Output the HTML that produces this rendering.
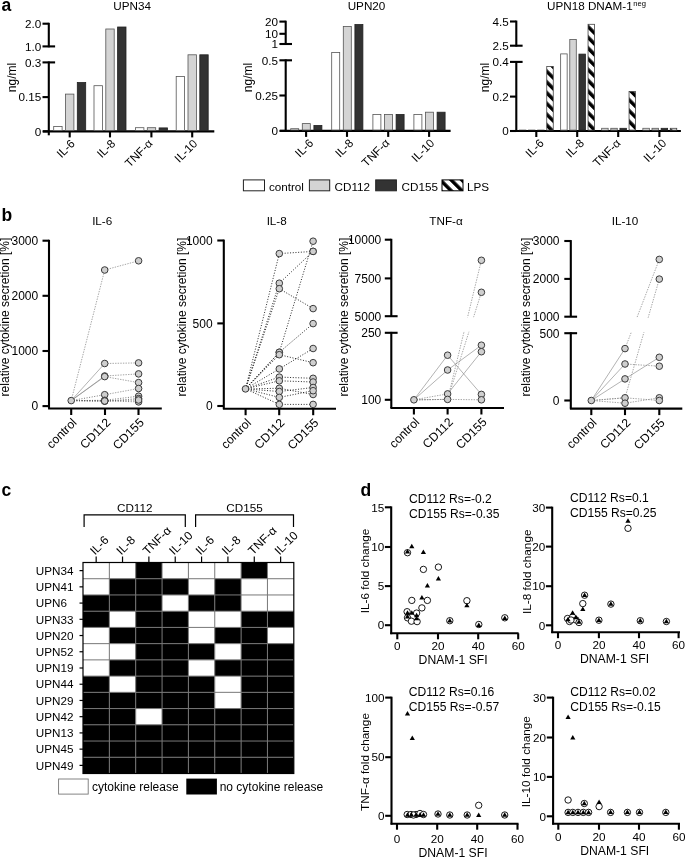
<!DOCTYPE html><html><head><meta charset="utf-8"><style>html,body{margin:0;padding:0;background:#fff;}svg{display:block;will-change:transform;}svg{font-family:"Liberation Sans",sans-serif;font-size:11.7px;}</style></head><body>
<svg width="685" height="857" viewBox="0 0 685 857">
<defs><pattern id="hatch" patternUnits="userSpaceOnUse" width="7.6" height="7.6" patternTransform="rotate(-45)"><rect width="7.6" height="7.6" fill="#fff"/><rect width="3.5" height="7.6" fill="#000"/></pattern></defs>
<rect width="685" height="857" fill="#fff"/>
<text x="1.50" y="10.80" font-size="17.5" font-weight="bold">a</text>
<text x="132.20" y="10.20" text-anchor="middle">UPN34</text>
<text transform="translate(15.6,77.5) rotate(-90)" text-anchor="middle" font-size="12">ng/ml</text>
<line x1="48.80" y1="22.80" x2="48.80" y2="47.30" stroke="#000" stroke-width="2.1"/>
<line x1="48.80" y1="61.50" x2="48.80" y2="135.30" stroke="#000" stroke-width="2.1"/>
<line x1="42.50" y1="23.70" x2="48.80" y2="23.70" stroke="#000" stroke-width="2.1"/>
<text x="41.20" y="27.90" text-anchor="end">2.0</text>
<line x1="42.50" y1="46.40" x2="55.10" y2="46.40" stroke="#000" stroke-width="2.1"/>
<text x="41.20" y="50.60" text-anchor="end">1.0</text>
<line x1="42.50" y1="62.40" x2="55.10" y2="62.40" stroke="#000" stroke-width="2.1"/>
<text x="41.20" y="66.60" text-anchor="end">0.3</text>
<line x1="42.50" y1="97.10" x2="48.80" y2="97.10" stroke="#000" stroke-width="2.1"/>
<text x="41.20" y="101.30" text-anchor="end">0.15</text>
<line x1="42.50" y1="131.40" x2="48.80" y2="131.40" stroke="#000" stroke-width="2.1"/>
<text x="41.20" y="135.60" text-anchor="end">0</text>
<line x1="43.00" y1="131.40" x2="214.30" y2="131.40" stroke="#000" stroke-width="2.1"/>
<line x1="69.70" y1="131.40" x2="69.70" y2="137.40" stroke="#000" stroke-width="2.1"/>
<text transform="translate(75.70,144.30) rotate(-45)" text-anchor="end">IL-6</text>
<line x1="110.00" y1="131.40" x2="110.00" y2="137.40" stroke="#000" stroke-width="2.1"/>
<text transform="translate(116.00,144.30) rotate(-45)" text-anchor="end">IL-8</text>
<line x1="151.40" y1="131.40" x2="151.40" y2="137.40" stroke="#000" stroke-width="2.1"/>
<text transform="translate(153.40,144.30) rotate(-45)" text-anchor="end">TNF-α</text>
<line x1="192.20" y1="131.40" x2="192.20" y2="137.40" stroke="#000" stroke-width="2.1"/>
<text transform="translate(198.20,144.30) rotate(-45)" text-anchor="end">IL-10</text>
<rect x="53.70" y="126.40" width="8.40" height="4.10" fill="#ffffff" stroke="#555" stroke-width="0.8"/>
<rect x="65.50" y="94.10" width="8.40" height="36.40" fill="#d4d4d4" stroke="#555" stroke-width="0.8"/>
<rect x="77.30" y="82.50" width="8.40" height="48.00" fill="#333333" stroke="#222" stroke-width="0.8"/>
<rect x="94.00" y="85.70" width="8.40" height="44.80" fill="#ffffff" stroke="#555" stroke-width="0.8"/>
<rect x="105.80" y="29.00" width="8.40" height="101.50" fill="#d4d4d4" stroke="#555" stroke-width="0.8"/>
<rect x="117.60" y="27.00" width="8.40" height="103.50" fill="#333333" stroke="#222" stroke-width="0.8"/>
<rect x="135.50" y="127.70" width="8.40" height="2.80" fill="#ffffff" stroke="#555" stroke-width="0.8"/>
<rect x="147.30" y="127.70" width="8.40" height="2.80" fill="#d4d4d4" stroke="#555" stroke-width="0.8"/>
<rect x="159.10" y="127.90" width="8.40" height="2.60" fill="#333333" stroke="#222" stroke-width="0.8"/>
<rect x="176.20" y="76.40" width="8.40" height="54.10" fill="#ffffff" stroke="#555" stroke-width="0.8"/>
<rect x="188.00" y="54.80" width="8.40" height="75.70" fill="#d4d4d4" stroke="#555" stroke-width="0.8"/>
<rect x="199.80" y="54.80" width="8.40" height="75.70" fill="#333333" stroke="#222" stroke-width="0.8"/>
<text x="366.50" y="10.20" text-anchor="middle">UPN20</text>
<text transform="translate(251.6,77.5) rotate(-90)" text-anchor="middle" font-size="12">ng/ml</text>
<line x1="285.70" y1="20.70" x2="285.70" y2="44.90" stroke="#000" stroke-width="2.1"/>
<line x1="285.70" y1="59.40" x2="285.70" y2="131.80" stroke="#000" stroke-width="2.1"/>
<line x1="279.40" y1="21.60" x2="285.70" y2="21.60" stroke="#000" stroke-width="2.1"/>
<text x="278.10" y="25.80" text-anchor="end">20</text>
<line x1="279.40" y1="33.80" x2="285.70" y2="33.80" stroke="#000" stroke-width="2.1"/>
<text x="278.10" y="38.00" text-anchor="end">10</text>
<line x1="279.40" y1="44.00" x2="292.00" y2="44.00" stroke="#000" stroke-width="2.1"/>
<text x="278.10" y="48.20" text-anchor="end">1</text>
<line x1="279.40" y1="60.30" x2="292.00" y2="60.30" stroke="#000" stroke-width="2.1"/>
<text x="278.10" y="64.50" text-anchor="end">0.5</text>
<line x1="279.40" y1="95.50" x2="285.70" y2="95.50" stroke="#000" stroke-width="2.1"/>
<text x="278.10" y="99.70" text-anchor="end">0.25</text>
<line x1="279.40" y1="130.90" x2="285.70" y2="130.90" stroke="#000" stroke-width="2.1"/>
<text x="278.10" y="135.10" text-anchor="end">0</text>
<line x1="280.00" y1="130.90" x2="450.60" y2="130.90" stroke="#000" stroke-width="2.1"/>
<line x1="306.10" y1="130.90" x2="306.10" y2="136.90" stroke="#000" stroke-width="2.1"/>
<text transform="translate(314.10,143.80) rotate(-45)" text-anchor="end">IL-6</text>
<line x1="347.00" y1="130.90" x2="347.00" y2="136.90" stroke="#000" stroke-width="2.1"/>
<text transform="translate(354.20,143.80) rotate(-45)" text-anchor="end">IL-8</text>
<line x1="388.20" y1="130.90" x2="388.20" y2="136.90" stroke="#000" stroke-width="2.1"/>
<text transform="translate(390.20,143.80) rotate(-45)" text-anchor="end">TNF-α</text>
<line x1="429.10" y1="130.90" x2="429.10" y2="136.90" stroke="#000" stroke-width="2.1"/>
<text transform="translate(435.10,143.80) rotate(-45)" text-anchor="end">IL-10</text>
<rect x="290.70" y="128.70" width="8.00" height="1.30" fill="#ffffff" stroke="#555" stroke-width="0.8"/>
<rect x="302.30" y="123.60" width="8.00" height="6.40" fill="#d4d4d4" stroke="#555" stroke-width="0.8"/>
<rect x="313.90" y="125.40" width="8.00" height="4.60" fill="#333333" stroke="#222" stroke-width="0.8"/>
<rect x="331.70" y="52.50" width="8.00" height="77.50" fill="#ffffff" stroke="#555" stroke-width="0.8"/>
<rect x="343.30" y="26.40" width="8.00" height="103.60" fill="#d4d4d4" stroke="#555" stroke-width="0.8"/>
<rect x="354.90" y="24.50" width="8.00" height="105.50" fill="#333333" stroke="#222" stroke-width="0.8"/>
<rect x="372.90" y="114.40" width="8.00" height="15.60" fill="#ffffff" stroke="#555" stroke-width="0.8"/>
<rect x="384.50" y="114.40" width="8.00" height="15.60" fill="#d4d4d4" stroke="#555" stroke-width="0.8"/>
<rect x="396.10" y="114.40" width="8.00" height="15.60" fill="#333333" stroke="#222" stroke-width="0.8"/>
<rect x="413.90" y="114.40" width="8.00" height="15.60" fill="#ffffff" stroke="#555" stroke-width="0.8"/>
<rect x="425.50" y="112.20" width="8.00" height="17.80" fill="#d4d4d4" stroke="#555" stroke-width="0.8"/>
<rect x="437.10" y="112.20" width="8.00" height="17.80" fill="#333333" stroke="#222" stroke-width="0.8"/>
<text x="547" y="10.2">UPN18 DNAM-1<tspan font-size="7.6" dy="-4.6" dx="0.6">neg</tspan></text>
<text transform="translate(488.6,77.5) rotate(-90)" text-anchor="middle" font-size="12">ng/ml</text>
<line x1="516.30" y1="20.60" x2="516.30" y2="46.60" stroke="#000" stroke-width="2.1"/>
<line x1="516.30" y1="61.00" x2="516.30" y2="131.90" stroke="#000" stroke-width="2.1"/>
<line x1="510.00" y1="21.50" x2="516.30" y2="21.50" stroke="#000" stroke-width="2.1"/>
<text x="508.70" y="25.70" text-anchor="end">4.5</text>
<line x1="510.00" y1="45.70" x2="522.60" y2="45.70" stroke="#000" stroke-width="2.1"/>
<text x="508.70" y="49.90" text-anchor="end">2.5</text>
<line x1="510.00" y1="61.90" x2="522.60" y2="61.90" stroke="#000" stroke-width="2.1"/>
<text x="508.70" y="66.10" text-anchor="end">0.4</text>
<line x1="510.00" y1="96.60" x2="516.30" y2="96.60" stroke="#000" stroke-width="2.1"/>
<text x="508.70" y="100.80" text-anchor="end">0.2</text>
<line x1="510.00" y1="131.00" x2="516.30" y2="131.00" stroke="#000" stroke-width="2.1"/>
<text x="508.70" y="135.20" text-anchor="end">0</text>
<line x1="510.00" y1="131.00" x2="680.90" y2="131.00" stroke="#000" stroke-width="2.1"/>
<line x1="536.30" y1="131.00" x2="536.30" y2="137.00" stroke="#000" stroke-width="2.1"/>
<text transform="translate(544.50,143.90) rotate(-45)" text-anchor="end">IL-6</text>
<line x1="577.20" y1="131.00" x2="577.20" y2="137.00" stroke="#000" stroke-width="2.1"/>
<text transform="translate(584.80,143.90) rotate(-45)" text-anchor="end">IL-8</text>
<line x1="618.20" y1="131.00" x2="618.20" y2="137.00" stroke="#000" stroke-width="2.1"/>
<text transform="translate(621.40,143.90) rotate(-45)" text-anchor="end">TNF-α</text>
<line x1="659.40" y1="131.00" x2="659.40" y2="137.00" stroke="#000" stroke-width="2.1"/>
<text transform="translate(667.20,143.90) rotate(-45)" text-anchor="end">IL-10</text>
<rect x="518.95" y="129.50" width="7.30" height="0.60" fill="#888"/>
<rect x="528.08" y="129.50" width="7.30" height="0.60" fill="#888"/>
<rect x="537.22" y="129.50" width="7.30" height="0.60" fill="#888"/>
<rect x="546.75" y="66.40" width="6.50" height="63.70" fill="url(#hatch)" stroke="#444" stroke-width="0.8"/>
<rect x="560.65" y="53.90" width="6.50" height="76.20" fill="#ffffff" stroke="#555" stroke-width="0.8"/>
<rect x="569.78" y="39.50" width="6.50" height="90.60" fill="#d4d4d4" stroke="#555" stroke-width="0.8"/>
<rect x="578.92" y="54.10" width="6.50" height="76.00" fill="#333333" stroke="#222" stroke-width="0.8"/>
<rect x="588.05" y="24.30" width="6.50" height="105.80" fill="url(#hatch)" stroke="#444" stroke-width="0.8"/>
<rect x="601.65" y="128.30" width="6.50" height="1.80" fill="#ffffff" stroke="#555" stroke-width="0.8"/>
<rect x="610.78" y="128.30" width="6.50" height="1.80" fill="#d4d4d4" stroke="#555" stroke-width="0.8"/>
<rect x="619.92" y="128.30" width="6.50" height="1.80" fill="#333333" stroke="#222" stroke-width="0.8"/>
<rect x="629.05" y="91.40" width="6.50" height="38.70" fill="url(#hatch)" stroke="#444" stroke-width="0.8"/>
<rect x="642.85" y="128.30" width="6.50" height="1.80" fill="#ffffff" stroke="#555" stroke-width="0.8"/>
<rect x="651.98" y="128.30" width="6.50" height="1.80" fill="#d4d4d4" stroke="#555" stroke-width="0.8"/>
<rect x="661.12" y="128.30" width="6.50" height="1.80" fill="#333333" stroke="#222" stroke-width="0.8"/>
<rect x="670.25" y="128.30" width="6.50" height="1.80" fill="url(#hatch)" stroke="#444" stroke-width="0.8"/>
<rect x="243.40" y="179.90" width="21.10" height="10.90" fill="#ffffff" stroke="#222" stroke-width="1"/>
<text x="268.90" y="190.60">control</text>
<rect x="309.40" y="179.90" width="20.30" height="10.90" fill="#d4d4d4" stroke="#222" stroke-width="1"/>
<text x="334.50" y="190.60">CD112</text>
<rect x="375.70" y="179.90" width="20.70" height="10.90" fill="#333333" stroke="#222" stroke-width="1"/>
<text x="401.50" y="190.60">CD155</text>
<rect x="442.00" y="179.90" width="21.00" height="10.90" fill="url(#hatch)" stroke="#000" stroke-width="1"/>
<text x="467.00" y="190.60">LPS</text>
<text x="1.50" y="220.60" font-size="17.5" font-weight="bold">b</text>
<text x="102.20" y="224.80" text-anchor="middle">IL-6</text>
<text transform="translate(8.90,317) rotate(-90)" text-anchor="middle" font-size="12">relative cytokine secretion [%]</text>
<line x1="49.00" y1="239.80" x2="49.00" y2="408.50" stroke="#000" stroke-width="2.1"/>
<line x1="42.50" y1="240.70" x2="49.00" y2="240.70" stroke="#000" stroke-width="2.1"/>
<text x="38.20" y="245.00" text-anchor="end" font-size="12">3000</text>
<line x1="42.50" y1="295.80" x2="49.00" y2="295.80" stroke="#000" stroke-width="2.1"/>
<text x="38.20" y="300.10" text-anchor="end" font-size="12">2000</text>
<line x1="42.50" y1="351.00" x2="49.00" y2="351.00" stroke="#000" stroke-width="2.1"/>
<text x="38.20" y="355.30" text-anchor="end" font-size="12">1000</text>
<line x1="42.50" y1="406.10" x2="49.00" y2="406.10" stroke="#000" stroke-width="2.1"/>
<text x="38.20" y="410.40" text-anchor="end" font-size="12">0</text>
<line x1="48.10" y1="408.50" x2="161.80" y2="408.50" stroke="#000" stroke-width="2.1"/>
<line x1="71.20" y1="408.50" x2="71.20" y2="415.00" stroke="#000" stroke-width="2.1"/>
<text transform="translate(77.40,423.30) rotate(-45)" text-anchor="end" font-size="12.2">control</text>
<line x1="105.00" y1="408.50" x2="105.00" y2="415.00" stroke="#000" stroke-width="2.1"/>
<text transform="translate(111.20,423.30) rotate(-45)" text-anchor="end" font-size="12.2">CD112</text>
<line x1="138.50" y1="408.50" x2="138.50" y2="415.00" stroke="#000" stroke-width="2.1"/>
<text transform="translate(144.70,423.30) rotate(-45)" text-anchor="end" font-size="12.2">CD155</text>
<line x1="71.20" y1="400.60" x2="104.70" y2="270.00" stroke="#888" stroke-width="0.75" stroke-dasharray="1.4 1.2"/>
<line x1="104.70" y1="270.00" x2="138.60" y2="260.80" stroke="#888" stroke-width="0.75" stroke-dasharray="1.4 1.2"/>
<line x1="71.20" y1="400.60" x2="104.70" y2="363.50" stroke="#8a8a8a" stroke-width="0.65"/>
<line x1="104.70" y1="363.50" x2="138.60" y2="362.90" stroke="#888" stroke-width="0.75" stroke-dasharray="1.4 1.2"/>
<line x1="71.20" y1="400.60" x2="104.70" y2="376.00" stroke="#8a8a8a" stroke-width="0.65"/>
<line x1="104.70" y1="376.00" x2="138.60" y2="373.90" stroke="#888" stroke-width="0.75" stroke-dasharray="1.4 1.2"/>
<line x1="71.20" y1="400.60" x2="104.70" y2="376.60" stroke="#8a8a8a" stroke-width="0.65"/>
<line x1="104.70" y1="376.60" x2="138.60" y2="382.60" stroke="#888" stroke-width="0.75" stroke-dasharray="1.4 1.2"/>
<line x1="71.20" y1="400.60" x2="104.70" y2="394.70" stroke="#555" stroke-width="0.8" stroke-dasharray="1 1.6"/>
<line x1="104.70" y1="394.70" x2="138.60" y2="388.50" stroke="#888" stroke-width="0.75" stroke-dasharray="1.4 1.2"/>
<line x1="71.20" y1="400.60" x2="104.70" y2="400.30" stroke="#555" stroke-width="0.8" stroke-dasharray="1 1.6"/>
<line x1="104.70" y1="400.30" x2="138.60" y2="396.20" stroke="#555" stroke-width="0.8" stroke-dasharray="1 1.6"/>
<line x1="71.20" y1="400.60" x2="104.70" y2="401.20" stroke="#555" stroke-width="0.8" stroke-dasharray="1 1.6"/>
<line x1="104.70" y1="401.20" x2="138.60" y2="398.60" stroke="#555" stroke-width="0.8" stroke-dasharray="1 1.6"/>
<line x1="71.20" y1="400.60" x2="104.70" y2="400.80" stroke="#555" stroke-width="0.8" stroke-dasharray="1 1.6"/>
<line x1="104.70" y1="400.80" x2="138.60" y2="401.90" stroke="#555" stroke-width="0.8" stroke-dasharray="1 1.6"/>
<line x1="71.20" y1="400.60" x2="104.70" y2="401.00" stroke="#555" stroke-width="0.8" stroke-dasharray="1 1.6"/>
<line x1="104.70" y1="401.00" x2="138.60" y2="400.00" stroke="#555" stroke-width="0.8" stroke-dasharray="1 1.6"/>
<circle cx="71.20" cy="400.60" r="3.3" fill="#cfcfcf" stroke="#3a3a3a" stroke-width="1"/>
<circle cx="104.70" cy="270.00" r="3.3" fill="#cfcfcf" stroke="#3a3a3a" stroke-width="1"/>
<circle cx="138.60" cy="260.80" r="3.3" fill="#cfcfcf" stroke="#3a3a3a" stroke-width="1"/>
<circle cx="104.70" cy="363.50" r="3.3" fill="#cfcfcf" stroke="#3a3a3a" stroke-width="1"/>
<circle cx="138.60" cy="362.90" r="3.3" fill="#cfcfcf" stroke="#3a3a3a" stroke-width="1"/>
<circle cx="104.70" cy="376.00" r="3.3" fill="#cfcfcf" stroke="#3a3a3a" stroke-width="1"/>
<circle cx="138.60" cy="373.90" r="3.3" fill="#cfcfcf" stroke="#3a3a3a" stroke-width="1"/>
<circle cx="104.70" cy="376.60" r="3.3" fill="#cfcfcf" stroke="#3a3a3a" stroke-width="1"/>
<circle cx="138.60" cy="382.60" r="3.3" fill="#cfcfcf" stroke="#3a3a3a" stroke-width="1"/>
<circle cx="104.70" cy="394.70" r="3.3" fill="#cfcfcf" stroke="#3a3a3a" stroke-width="1"/>
<circle cx="138.60" cy="388.50" r="3.3" fill="#cfcfcf" stroke="#3a3a3a" stroke-width="1"/>
<circle cx="104.70" cy="400.30" r="3.3" fill="#cfcfcf" stroke="#3a3a3a" stroke-width="1"/>
<circle cx="138.60" cy="396.20" r="3.3" fill="#cfcfcf" stroke="#3a3a3a" stroke-width="1"/>
<circle cx="104.70" cy="401.20" r="3.3" fill="#cfcfcf" stroke="#3a3a3a" stroke-width="1"/>
<circle cx="138.60" cy="398.60" r="3.3" fill="#cfcfcf" stroke="#3a3a3a" stroke-width="1"/>
<circle cx="104.70" cy="400.80" r="3.3" fill="#cfcfcf" stroke="#3a3a3a" stroke-width="1"/>
<circle cx="138.60" cy="401.90" r="3.3" fill="#cfcfcf" stroke="#3a3a3a" stroke-width="1"/>
<circle cx="104.70" cy="401.00" r="3.3" fill="#cfcfcf" stroke="#3a3a3a" stroke-width="1"/>
<circle cx="138.60" cy="400.00" r="3.3" fill="#cfcfcf" stroke="#3a3a3a" stroke-width="1"/>
<text x="276.70" y="224.80" text-anchor="middle">IL-8</text>
<text transform="translate(186.30,317) rotate(-90)" text-anchor="middle" font-size="12">relative cytokine secretion [%]</text>
<line x1="223.80" y1="239.60" x2="223.80" y2="408.70" stroke="#000" stroke-width="2.1"/>
<line x1="217.30" y1="240.50" x2="223.80" y2="240.50" stroke="#000" stroke-width="2.1"/>
<text x="212.60" y="244.80" text-anchor="end" font-size="12">1000</text>
<line x1="217.30" y1="323.40" x2="223.80" y2="323.40" stroke="#000" stroke-width="2.1"/>
<text x="212.60" y="327.70" text-anchor="end" font-size="12">500</text>
<line x1="217.30" y1="406.00" x2="223.80" y2="406.00" stroke="#000" stroke-width="2.1"/>
<text x="212.60" y="410.30" text-anchor="end" font-size="12">0</text>
<line x1="222.90" y1="408.70" x2="336.00" y2="408.70" stroke="#000" stroke-width="2.1"/>
<line x1="245.60" y1="408.70" x2="245.60" y2="415.20" stroke="#000" stroke-width="2.1"/>
<text transform="translate(251.80,423.50) rotate(-45)" text-anchor="end" font-size="12.2">control</text>
<line x1="279.20" y1="408.70" x2="279.20" y2="415.20" stroke="#000" stroke-width="2.1"/>
<text transform="translate(285.40,423.50) rotate(-45)" text-anchor="end" font-size="12.2">CD112</text>
<line x1="313.20" y1="408.70" x2="313.20" y2="415.20" stroke="#000" stroke-width="2.1"/>
<text transform="translate(319.40,423.50) rotate(-45)" text-anchor="end" font-size="12.2">CD155</text>
<line x1="245.50" y1="388.90" x2="279.30" y2="253.60" stroke="#111" stroke-width="0.9" stroke-dasharray="1 1.7"/>
<line x1="279.30" y1="253.60" x2="313.10" y2="251.40" stroke="#111" stroke-width="0.9" stroke-dasharray="1 1.7"/>
<line x1="245.50" y1="388.90" x2="279.30" y2="283.20" stroke="#111" stroke-width="0.9" stroke-dasharray="1 1.7"/>
<line x1="279.30" y1="283.20" x2="313.10" y2="251.40" stroke="#111" stroke-width="0.9" stroke-dasharray="1 1.7"/>
<line x1="245.50" y1="388.90" x2="279.30" y2="288.70" stroke="#111" stroke-width="0.9" stroke-dasharray="1 1.7"/>
<line x1="279.30" y1="288.70" x2="313.10" y2="308.60" stroke="#111" stroke-width="0.9" stroke-dasharray="1 1.7"/>
<line x1="245.50" y1="388.90" x2="279.30" y2="352.30" stroke="#111" stroke-width="0.9" stroke-dasharray="1 1.7"/>
<line x1="279.30" y1="352.30" x2="313.10" y2="241.20" stroke="#111" stroke-width="0.9" stroke-dasharray="1 1.7"/>
<line x1="245.50" y1="388.90" x2="279.30" y2="352.30" stroke="#111" stroke-width="0.9" stroke-dasharray="1 1.7"/>
<line x1="279.30" y1="352.30" x2="313.10" y2="323.60" stroke="#111" stroke-width="0.9" stroke-dasharray="1 1.7"/>
<line x1="245.50" y1="388.90" x2="279.30" y2="354.70" stroke="#111" stroke-width="0.9" stroke-dasharray="1 1.7"/>
<line x1="279.30" y1="354.70" x2="313.10" y2="362.70" stroke="#111" stroke-width="0.9" stroke-dasharray="1 1.7"/>
<line x1="245.50" y1="388.90" x2="279.30" y2="368.90" stroke="#111" stroke-width="0.9" stroke-dasharray="1 1.7"/>
<line x1="279.30" y1="368.90" x2="313.10" y2="348.50" stroke="#111" stroke-width="0.9" stroke-dasharray="1 1.7"/>
<line x1="245.50" y1="388.90" x2="279.30" y2="377.10" stroke="#111" stroke-width="0.9" stroke-dasharray="1 1.7"/>
<line x1="279.30" y1="377.10" x2="313.10" y2="378.30" stroke="#111" stroke-width="0.9" stroke-dasharray="1 1.7"/>
<line x1="245.50" y1="388.90" x2="279.30" y2="380.80" stroke="#111" stroke-width="0.9" stroke-dasharray="1 1.7"/>
<line x1="279.30" y1="380.80" x2="313.10" y2="382.00" stroke="#111" stroke-width="0.9" stroke-dasharray="1 1.7"/>
<line x1="245.50" y1="388.90" x2="279.30" y2="388.30" stroke="#111" stroke-width="0.9" stroke-dasharray="1 1.7"/>
<line x1="279.30" y1="388.30" x2="313.10" y2="394.50" stroke="#111" stroke-width="0.9" stroke-dasharray="1 1.7"/>
<line x1="245.50" y1="388.90" x2="279.30" y2="391.50" stroke="#111" stroke-width="0.9" stroke-dasharray="1 1.7"/>
<line x1="279.30" y1="391.50" x2="313.10" y2="387.50" stroke="#111" stroke-width="0.9" stroke-dasharray="1 1.7"/>
<line x1="245.50" y1="388.90" x2="279.30" y2="397.40" stroke="#111" stroke-width="0.9" stroke-dasharray="1 1.7"/>
<line x1="279.30" y1="397.40" x2="313.10" y2="390.70" stroke="#111" stroke-width="0.9" stroke-dasharray="1 1.7"/>
<line x1="245.50" y1="388.90" x2="279.30" y2="404.40" stroke="#111" stroke-width="0.9" stroke-dasharray="1 1.7"/>
<line x1="279.30" y1="404.40" x2="313.10" y2="404.40" stroke="#111" stroke-width="0.9" stroke-dasharray="1 1.7"/>
<circle cx="245.50" cy="388.90" r="3.3" fill="#cfcfcf" stroke="#3a3a3a" stroke-width="1"/>
<circle cx="279.30" cy="253.60" r="3.3" fill="#cfcfcf" stroke="#3a3a3a" stroke-width="1"/>
<circle cx="313.10" cy="251.40" r="3.3" fill="#cfcfcf" stroke="#3a3a3a" stroke-width="1"/>
<circle cx="279.30" cy="283.20" r="3.3" fill="#cfcfcf" stroke="#3a3a3a" stroke-width="1"/>
<circle cx="313.10" cy="251.40" r="3.3" fill="#cfcfcf" stroke="#3a3a3a" stroke-width="1"/>
<circle cx="279.30" cy="288.70" r="3.3" fill="#cfcfcf" stroke="#3a3a3a" stroke-width="1"/>
<circle cx="313.10" cy="308.60" r="3.3" fill="#cfcfcf" stroke="#3a3a3a" stroke-width="1"/>
<circle cx="279.30" cy="352.30" r="3.3" fill="#cfcfcf" stroke="#3a3a3a" stroke-width="1"/>
<circle cx="313.10" cy="241.20" r="3.3" fill="#cfcfcf" stroke="#3a3a3a" stroke-width="1"/>
<circle cx="279.30" cy="352.30" r="3.3" fill="#cfcfcf" stroke="#3a3a3a" stroke-width="1"/>
<circle cx="313.10" cy="323.60" r="3.3" fill="#cfcfcf" stroke="#3a3a3a" stroke-width="1"/>
<circle cx="279.30" cy="354.70" r="3.3" fill="#cfcfcf" stroke="#3a3a3a" stroke-width="1"/>
<circle cx="313.10" cy="362.70" r="3.3" fill="#cfcfcf" stroke="#3a3a3a" stroke-width="1"/>
<circle cx="279.30" cy="368.90" r="3.3" fill="#cfcfcf" stroke="#3a3a3a" stroke-width="1"/>
<circle cx="313.10" cy="348.50" r="3.3" fill="#cfcfcf" stroke="#3a3a3a" stroke-width="1"/>
<circle cx="279.30" cy="377.10" r="3.3" fill="#cfcfcf" stroke="#3a3a3a" stroke-width="1"/>
<circle cx="313.10" cy="378.30" r="3.3" fill="#cfcfcf" stroke="#3a3a3a" stroke-width="1"/>
<circle cx="279.30" cy="380.80" r="3.3" fill="#cfcfcf" stroke="#3a3a3a" stroke-width="1"/>
<circle cx="313.10" cy="382.00" r="3.3" fill="#cfcfcf" stroke="#3a3a3a" stroke-width="1"/>
<circle cx="279.30" cy="388.30" r="3.3" fill="#cfcfcf" stroke="#3a3a3a" stroke-width="1"/>
<circle cx="313.10" cy="394.50" r="3.3" fill="#cfcfcf" stroke="#3a3a3a" stroke-width="1"/>
<circle cx="279.30" cy="391.50" r="3.3" fill="#cfcfcf" stroke="#3a3a3a" stroke-width="1"/>
<circle cx="313.10" cy="387.50" r="3.3" fill="#cfcfcf" stroke="#3a3a3a" stroke-width="1"/>
<circle cx="279.30" cy="397.40" r="3.3" fill="#cfcfcf" stroke="#3a3a3a" stroke-width="1"/>
<circle cx="313.10" cy="390.70" r="3.3" fill="#cfcfcf" stroke="#3a3a3a" stroke-width="1"/>
<circle cx="279.30" cy="404.40" r="3.3" fill="#cfcfcf" stroke="#3a3a3a" stroke-width="1"/>
<circle cx="313.10" cy="404.40" r="3.3" fill="#cfcfcf" stroke="#3a3a3a" stroke-width="1"/>
<text x="446.00" y="224.80" text-anchor="middle">TNF-α</text>
<text transform="translate(348.20,317) rotate(-90)" text-anchor="middle" font-size="12">relative cytokine secretion [%]</text>
<line x1="391.30" y1="238.80" x2="391.30" y2="316.20" stroke="#000" stroke-width="2.1"/>
<line x1="391.30" y1="331.90" x2="391.30" y2="408.00" stroke="#000" stroke-width="2.1"/>
<line x1="384.80" y1="239.70" x2="391.30" y2="239.70" stroke="#000" stroke-width="2.1"/>
<text x="381.30" y="244.00" text-anchor="end" font-size="12">10000</text>
<line x1="384.80" y1="278.40" x2="391.30" y2="278.40" stroke="#000" stroke-width="2.1"/>
<text x="381.30" y="282.70" text-anchor="end" font-size="12">7500</text>
<line x1="384.80" y1="316.20" x2="397.60" y2="316.20" stroke="#000" stroke-width="2.1"/>
<text x="381.30" y="320.50" text-anchor="end" font-size="12">5000</text>
<line x1="384.80" y1="332.80" x2="397.60" y2="332.80" stroke="#000" stroke-width="2.1"/>
<text x="381.30" y="337.10" text-anchor="end" font-size="12">250</text>
<line x1="384.80" y1="399.80" x2="391.30" y2="399.80" stroke="#000" stroke-width="2.1"/>
<text x="381.30" y="404.10" text-anchor="end" font-size="12">100</text>
<line x1="390.40" y1="408.00" x2="504.00" y2="408.00" stroke="#000" stroke-width="2.1"/>
<line x1="413.90" y1="408.00" x2="413.90" y2="414.50" stroke="#000" stroke-width="2.1"/>
<text transform="translate(420.10,422.80) rotate(-45)" text-anchor="end" font-size="12.2">control</text>
<line x1="447.60" y1="408.00" x2="447.60" y2="414.50" stroke="#000" stroke-width="2.1"/>
<text transform="translate(453.80,422.80) rotate(-45)" text-anchor="end" font-size="12.2">CD112</text>
<line x1="481.40" y1="408.00" x2="481.40" y2="414.50" stroke="#000" stroke-width="2.1"/>
<text transform="translate(487.60,422.80) rotate(-45)" text-anchor="end" font-size="12.2">CD155</text>
<line x1="413.90" y1="399.80" x2="447.60" y2="355.20" stroke="#8a8a8a" stroke-width="0.65"/>
<line x1="447.60" y1="355.20" x2="481.40" y2="394.40" stroke="#8a8a8a" stroke-width="0.65"/>
<line x1="413.90" y1="399.80" x2="447.60" y2="370.00" stroke="#8a8a8a" stroke-width="0.65"/>
<line x1="447.60" y1="370.00" x2="481.40" y2="345.20" stroke="#8a8a8a" stroke-width="0.65"/>
<line x1="413.90" y1="399.80" x2="447.60" y2="393.90" stroke="#888" stroke-width="0.75" stroke-dasharray="1.4 1.2"/>
<line x1="447.60" y1="393.90" x2="481.40" y2="351.70" stroke="#8a8a8a" stroke-width="0.65"/>
<line x1="413.90" y1="399.80" x2="447.60" y2="399.40" stroke="#888" stroke-width="0.75" stroke-dasharray="1.4 1.2"/>
<line x1="447.60" y1="399.40" x2="481.40" y2="260.30" stroke="#888" stroke-width="0.75" stroke-dasharray="1.4 1.2"/>
<line x1="413.90" y1="399.80" x2="447.60" y2="399.40" stroke="#888" stroke-width="0.75" stroke-dasharray="1.4 1.2"/>
<line x1="447.60" y1="399.40" x2="481.40" y2="292.30" stroke="#888" stroke-width="0.75" stroke-dasharray="1.4 1.2"/>
<line x1="413.90" y1="399.80" x2="447.60" y2="399.40" stroke="#888" stroke-width="0.75" stroke-dasharray="1.4 1.2"/>
<line x1="447.60" y1="399.40" x2="481.40" y2="399.80" stroke="#888" stroke-width="0.75" stroke-dasharray="1.4 1.2"/>
<rect x="398.50" y="317.30" width="104.00" height="14.40" fill="#fff"/>
<circle cx="413.90" cy="399.80" r="3.3" fill="#cfcfcf" stroke="#3a3a3a" stroke-width="1"/>
<circle cx="447.60" cy="355.20" r="3.3" fill="#cfcfcf" stroke="#3a3a3a" stroke-width="1"/>
<circle cx="447.60" cy="370.00" r="3.3" fill="#cfcfcf" stroke="#3a3a3a" stroke-width="1"/>
<circle cx="447.60" cy="393.90" r="3.3" fill="#cfcfcf" stroke="#3a3a3a" stroke-width="1"/>
<circle cx="447.60" cy="399.40" r="3.3" fill="#cfcfcf" stroke="#3a3a3a" stroke-width="1"/>
<circle cx="481.40" cy="260.30" r="3.3" fill="#cfcfcf" stroke="#3a3a3a" stroke-width="1"/>
<circle cx="481.40" cy="292.30" r="3.3" fill="#cfcfcf" stroke="#3a3a3a" stroke-width="1"/>
<circle cx="481.40" cy="345.20" r="3.3" fill="#cfcfcf" stroke="#3a3a3a" stroke-width="1"/>
<circle cx="481.40" cy="351.70" r="3.3" fill="#cfcfcf" stroke="#3a3a3a" stroke-width="1"/>
<circle cx="481.40" cy="394.40" r="3.3" fill="#cfcfcf" stroke="#3a3a3a" stroke-width="1"/>
<circle cx="481.40" cy="399.80" r="3.3" fill="#cfcfcf" stroke="#3a3a3a" stroke-width="1"/>
<text x="625.00" y="224.80" text-anchor="middle">IL-10</text>
<text transform="translate(530.20,317) rotate(-90)" text-anchor="middle" font-size="12">relative cytokine secretion [%]</text>
<line x1="570.80" y1="240.10" x2="570.80" y2="316.70" stroke="#000" stroke-width="2.1"/>
<line x1="570.80" y1="332.30" x2="570.80" y2="408.60" stroke="#000" stroke-width="2.1"/>
<line x1="564.30" y1="241.00" x2="570.80" y2="241.00" stroke="#000" stroke-width="2.1"/>
<text x="559.50" y="245.30" text-anchor="end" font-size="12">3000</text>
<line x1="564.30" y1="278.90" x2="570.80" y2="278.90" stroke="#000" stroke-width="2.1"/>
<text x="559.50" y="283.20" text-anchor="end" font-size="12">2000</text>
<line x1="564.30" y1="316.70" x2="577.10" y2="316.70" stroke="#000" stroke-width="2.1"/>
<text x="559.50" y="321.00" text-anchor="end" font-size="12">1000</text>
<line x1="564.30" y1="333.20" x2="577.10" y2="333.20" stroke="#000" stroke-width="2.1"/>
<text x="559.50" y="337.50" text-anchor="end" font-size="12">500</text>
<line x1="564.30" y1="400.50" x2="570.80" y2="400.50" stroke="#000" stroke-width="2.1"/>
<text x="559.50" y="404.80" text-anchor="end" font-size="12">0</text>
<line x1="569.90" y1="408.60" x2="682.30" y2="408.60" stroke="#000" stroke-width="2.1"/>
<line x1="591.30" y1="408.60" x2="591.30" y2="415.10" stroke="#000" stroke-width="2.1"/>
<text transform="translate(597.50,423.40) rotate(-45)" text-anchor="end" font-size="12.2">control</text>
<line x1="625.00" y1="408.60" x2="625.00" y2="415.10" stroke="#000" stroke-width="2.1"/>
<text transform="translate(631.20,423.40) rotate(-45)" text-anchor="end" font-size="12.2">CD112</text>
<line x1="659.30" y1="408.60" x2="659.30" y2="415.10" stroke="#000" stroke-width="2.1"/>
<text transform="translate(665.50,423.40) rotate(-45)" text-anchor="end" font-size="12.2">CD155</text>
<line x1="591.30" y1="400.50" x2="625.00" y2="348.60" stroke="#8a8a8a" stroke-width="0.65"/>
<line x1="625.00" y1="348.60" x2="659.30" y2="259.40" stroke="#888" stroke-width="0.75" stroke-dasharray="1.4 1.2"/>
<line x1="591.30" y1="400.50" x2="625.00" y2="364.00" stroke="#8a8a8a" stroke-width="0.65"/>
<line x1="625.00" y1="364.00" x2="659.30" y2="366.20" stroke="#888" stroke-width="0.75" stroke-dasharray="1.4 1.2"/>
<line x1="591.30" y1="400.50" x2="625.00" y2="378.90" stroke="#8a8a8a" stroke-width="0.65"/>
<line x1="625.00" y1="378.90" x2="659.30" y2="357.30" stroke="#8a8a8a" stroke-width="0.65"/>
<line x1="591.30" y1="400.50" x2="625.00" y2="397.80" stroke="#888" stroke-width="0.75" stroke-dasharray="1.4 1.2"/>
<line x1="625.00" y1="397.80" x2="659.30" y2="279.10" stroke="#888" stroke-width="0.75" stroke-dasharray="1.4 1.2"/>
<line x1="591.30" y1="400.50" x2="625.00" y2="403.20" stroke="#888" stroke-width="0.75" stroke-dasharray="1.4 1.2"/>
<line x1="625.00" y1="403.20" x2="659.30" y2="397.80" stroke="#888" stroke-width="0.75" stroke-dasharray="1.4 1.2"/>
<line x1="591.30" y1="400.50" x2="625.00" y2="397.80" stroke="#888" stroke-width="0.75" stroke-dasharray="1.4 1.2"/>
<line x1="625.00" y1="397.80" x2="659.30" y2="400.50" stroke="#888" stroke-width="0.75" stroke-dasharray="1.4 1.2"/>
<rect x="578.50" y="317.80" width="104.00" height="14.40" fill="#fff"/>
<circle cx="591.30" cy="400.50" r="3.3" fill="#cfcfcf" stroke="#3a3a3a" stroke-width="1"/>
<circle cx="625.00" cy="348.60" r="3.3" fill="#cfcfcf" stroke="#3a3a3a" stroke-width="1"/>
<circle cx="625.00" cy="364.00" r="3.3" fill="#cfcfcf" stroke="#3a3a3a" stroke-width="1"/>
<circle cx="625.00" cy="378.90" r="3.3" fill="#cfcfcf" stroke="#3a3a3a" stroke-width="1"/>
<circle cx="625.00" cy="397.80" r="3.3" fill="#cfcfcf" stroke="#3a3a3a" stroke-width="1"/>
<circle cx="625.00" cy="403.20" r="3.3" fill="#cfcfcf" stroke="#3a3a3a" stroke-width="1"/>
<circle cx="659.30" cy="259.40" r="3.3" fill="#cfcfcf" stroke="#3a3a3a" stroke-width="1"/>
<circle cx="659.30" cy="279.10" r="3.3" fill="#cfcfcf" stroke="#3a3a3a" stroke-width="1"/>
<circle cx="659.30" cy="357.30" r="3.3" fill="#cfcfcf" stroke="#3a3a3a" stroke-width="1"/>
<circle cx="659.30" cy="366.20" r="3.3" fill="#cfcfcf" stroke="#3a3a3a" stroke-width="1"/>
<circle cx="659.30" cy="397.80" r="3.3" fill="#cfcfcf" stroke="#3a3a3a" stroke-width="1"/>
<circle cx="659.30" cy="400.50" r="3.3" fill="#cfcfcf" stroke="#3a3a3a" stroke-width="1"/>
<text x="1.50" y="495.60" font-size="17.5" font-weight="bold">c</text>
<rect x="83.00" y="562.50" width="26.35" height="16.23" fill="#fff"/>
<rect x="109.35" y="562.50" width="26.35" height="16.23" fill="#fff"/>
<rect x="135.70" y="562.50" width="26.35" height="16.23" fill="#000"/>
<rect x="162.05" y="562.50" width="26.35" height="16.23" fill="#fff"/>
<rect x="188.40" y="562.50" width="26.35" height="16.23" fill="#fff"/>
<rect x="214.75" y="562.50" width="26.35" height="16.23" fill="#fff"/>
<rect x="241.10" y="562.50" width="26.35" height="16.23" fill="#000"/>
<rect x="267.45" y="562.50" width="26.35" height="16.23" fill="#fff"/>
<rect x="83.00" y="578.73" width="26.35" height="16.23" fill="#fff"/>
<rect x="109.35" y="578.73" width="26.35" height="16.23" fill="#000"/>
<rect x="135.70" y="578.73" width="26.35" height="16.23" fill="#000"/>
<rect x="162.05" y="578.73" width="26.35" height="16.23" fill="#000"/>
<rect x="188.40" y="578.73" width="26.35" height="16.23" fill="#fff"/>
<rect x="214.75" y="578.73" width="26.35" height="16.23" fill="#000"/>
<rect x="241.10" y="578.73" width="26.35" height="16.23" fill="#fff"/>
<rect x="267.45" y="578.73" width="26.35" height="16.23" fill="#fff"/>
<rect x="83.00" y="594.96" width="26.35" height="16.23" fill="#000"/>
<rect x="109.35" y="594.96" width="26.35" height="16.23" fill="#000"/>
<rect x="135.70" y="594.96" width="26.35" height="16.23" fill="#000"/>
<rect x="162.05" y="594.96" width="26.35" height="16.23" fill="#fff"/>
<rect x="188.40" y="594.96" width="26.35" height="16.23" fill="#000"/>
<rect x="214.75" y="594.96" width="26.35" height="16.23" fill="#000"/>
<rect x="241.10" y="594.96" width="26.35" height="16.23" fill="#fff"/>
<rect x="267.45" y="594.96" width="26.35" height="16.23" fill="#fff"/>
<rect x="83.00" y="611.19" width="26.35" height="16.23" fill="#000"/>
<rect x="109.35" y="611.19" width="26.35" height="16.23" fill="#fff"/>
<rect x="135.70" y="611.19" width="26.35" height="16.23" fill="#000"/>
<rect x="162.05" y="611.19" width="26.35" height="16.23" fill="#000"/>
<rect x="188.40" y="611.19" width="26.35" height="16.23" fill="#fff"/>
<rect x="214.75" y="611.19" width="26.35" height="16.23" fill="#fff"/>
<rect x="241.10" y="611.19" width="26.35" height="16.23" fill="#000"/>
<rect x="267.45" y="611.19" width="26.35" height="16.23" fill="#000"/>
<rect x="83.00" y="627.42" width="26.35" height="16.23" fill="#fff"/>
<rect x="109.35" y="627.42" width="26.35" height="16.23" fill="#000"/>
<rect x="135.70" y="627.42" width="26.35" height="16.23" fill="#000"/>
<rect x="162.05" y="627.42" width="26.35" height="16.23" fill="#000"/>
<rect x="188.40" y="627.42" width="26.35" height="16.23" fill="#fff"/>
<rect x="214.75" y="627.42" width="26.35" height="16.23" fill="#000"/>
<rect x="241.10" y="627.42" width="26.35" height="16.23" fill="#000"/>
<rect x="267.45" y="627.42" width="26.35" height="16.23" fill="#fff"/>
<rect x="83.00" y="643.65" width="26.35" height="16.23" fill="#fff"/>
<rect x="109.35" y="643.65" width="26.35" height="16.23" fill="#fff"/>
<rect x="135.70" y="643.65" width="26.35" height="16.23" fill="#000"/>
<rect x="162.05" y="643.65" width="26.35" height="16.23" fill="#000"/>
<rect x="188.40" y="643.65" width="26.35" height="16.23" fill="#000"/>
<rect x="214.75" y="643.65" width="26.35" height="16.23" fill="#fff"/>
<rect x="241.10" y="643.65" width="26.35" height="16.23" fill="#000"/>
<rect x="267.45" y="643.65" width="26.35" height="16.23" fill="#000"/>
<rect x="83.00" y="659.88" width="26.35" height="16.23" fill="#fff"/>
<rect x="109.35" y="659.88" width="26.35" height="16.23" fill="#000"/>
<rect x="135.70" y="659.88" width="26.35" height="16.23" fill="#000"/>
<rect x="162.05" y="659.88" width="26.35" height="16.23" fill="#000"/>
<rect x="188.40" y="659.88" width="26.35" height="16.23" fill="#fff"/>
<rect x="214.75" y="659.88" width="26.35" height="16.23" fill="#000"/>
<rect x="241.10" y="659.88" width="26.35" height="16.23" fill="#000"/>
<rect x="267.45" y="659.88" width="26.35" height="16.23" fill="#000"/>
<rect x="83.00" y="676.11" width="26.35" height="16.23" fill="#000"/>
<rect x="109.35" y="676.11" width="26.35" height="16.23" fill="#fff"/>
<rect x="135.70" y="676.11" width="26.35" height="16.23" fill="#000"/>
<rect x="162.05" y="676.11" width="26.35" height="16.23" fill="#000"/>
<rect x="188.40" y="676.11" width="26.35" height="16.23" fill="#000"/>
<rect x="214.75" y="676.11" width="26.35" height="16.23" fill="#fff"/>
<rect x="241.10" y="676.11" width="26.35" height="16.23" fill="#000"/>
<rect x="267.45" y="676.11" width="26.35" height="16.23" fill="#000"/>
<rect x="83.00" y="692.34" width="26.35" height="16.23" fill="#000"/>
<rect x="109.35" y="692.34" width="26.35" height="16.23" fill="#000"/>
<rect x="135.70" y="692.34" width="26.35" height="16.23" fill="#000"/>
<rect x="162.05" y="692.34" width="26.35" height="16.23" fill="#000"/>
<rect x="188.40" y="692.34" width="26.35" height="16.23" fill="#000"/>
<rect x="214.75" y="692.34" width="26.35" height="16.23" fill="#fff"/>
<rect x="241.10" y="692.34" width="26.35" height="16.23" fill="#000"/>
<rect x="267.45" y="692.34" width="26.35" height="16.23" fill="#000"/>
<rect x="83.00" y="708.57" width="26.35" height="16.23" fill="#000"/>
<rect x="109.35" y="708.57" width="26.35" height="16.23" fill="#000"/>
<rect x="135.70" y="708.57" width="26.35" height="16.23" fill="#fff"/>
<rect x="162.05" y="708.57" width="26.35" height="16.23" fill="#000"/>
<rect x="188.40" y="708.57" width="26.35" height="16.23" fill="#000"/>
<rect x="214.75" y="708.57" width="26.35" height="16.23" fill="#000"/>
<rect x="241.10" y="708.57" width="26.35" height="16.23" fill="#000"/>
<rect x="267.45" y="708.57" width="26.35" height="16.23" fill="#000"/>
<rect x="83.00" y="724.80" width="26.35" height="16.23" fill="#000"/>
<rect x="109.35" y="724.80" width="26.35" height="16.23" fill="#000"/>
<rect x="135.70" y="724.80" width="26.35" height="16.23" fill="#000"/>
<rect x="162.05" y="724.80" width="26.35" height="16.23" fill="#000"/>
<rect x="188.40" y="724.80" width="26.35" height="16.23" fill="#000"/>
<rect x="214.75" y="724.80" width="26.35" height="16.23" fill="#000"/>
<rect x="241.10" y="724.80" width="26.35" height="16.23" fill="#000"/>
<rect x="267.45" y="724.80" width="26.35" height="16.23" fill="#000"/>
<rect x="83.00" y="741.03" width="26.35" height="16.23" fill="#000"/>
<rect x="109.35" y="741.03" width="26.35" height="16.23" fill="#000"/>
<rect x="135.70" y="741.03" width="26.35" height="16.23" fill="#000"/>
<rect x="162.05" y="741.03" width="26.35" height="16.23" fill="#000"/>
<rect x="188.40" y="741.03" width="26.35" height="16.23" fill="#000"/>
<rect x="214.75" y="741.03" width="26.35" height="16.23" fill="#000"/>
<rect x="241.10" y="741.03" width="26.35" height="16.23" fill="#000"/>
<rect x="267.45" y="741.03" width="26.35" height="16.23" fill="#000"/>
<rect x="83.00" y="757.26" width="26.35" height="16.23" fill="#000"/>
<rect x="109.35" y="757.26" width="26.35" height="16.23" fill="#000"/>
<rect x="135.70" y="757.26" width="26.35" height="16.23" fill="#000"/>
<rect x="162.05" y="757.26" width="26.35" height="16.23" fill="#000"/>
<rect x="188.40" y="757.26" width="26.35" height="16.23" fill="#000"/>
<rect x="214.75" y="757.26" width="26.35" height="16.23" fill="#000"/>
<rect x="241.10" y="757.26" width="26.35" height="16.23" fill="#000"/>
<rect x="267.45" y="757.26" width="26.35" height="16.23" fill="#000"/>
<line x1="109.35" y1="562.50" x2="109.35" y2="773.49" stroke="#777" stroke-width="1"/>
<line x1="135.70" y1="562.50" x2="135.70" y2="773.49" stroke="#777" stroke-width="1"/>
<line x1="162.05" y1="562.50" x2="162.05" y2="773.49" stroke="#777" stroke-width="1"/>
<line x1="188.40" y1="562.50" x2="188.40" y2="773.49" stroke="#777" stroke-width="1"/>
<line x1="214.75" y1="562.50" x2="214.75" y2="773.49" stroke="#777" stroke-width="1"/>
<line x1="241.10" y1="562.50" x2="241.10" y2="773.49" stroke="#777" stroke-width="1"/>
<line x1="267.45" y1="562.50" x2="267.45" y2="773.49" stroke="#777" stroke-width="1"/>
<line x1="83.00" y1="578.73" x2="293.80" y2="578.73" stroke="#777" stroke-width="1"/>
<line x1="83.00" y1="594.96" x2="293.80" y2="594.96" stroke="#777" stroke-width="1"/>
<line x1="83.00" y1="611.19" x2="293.80" y2="611.19" stroke="#777" stroke-width="1"/>
<line x1="83.00" y1="627.42" x2="293.80" y2="627.42" stroke="#777" stroke-width="1"/>
<line x1="83.00" y1="643.65" x2="293.80" y2="643.65" stroke="#777" stroke-width="1"/>
<line x1="83.00" y1="659.88" x2="293.80" y2="659.88" stroke="#777" stroke-width="1"/>
<line x1="83.00" y1="676.11" x2="293.80" y2="676.11" stroke="#777" stroke-width="1"/>
<line x1="83.00" y1="692.34" x2="293.80" y2="692.34" stroke="#777" stroke-width="1"/>
<line x1="83.00" y1="708.57" x2="293.80" y2="708.57" stroke="#777" stroke-width="1"/>
<line x1="83.00" y1="724.80" x2="293.80" y2="724.80" stroke="#777" stroke-width="1"/>
<line x1="83.00" y1="741.03" x2="293.80" y2="741.03" stroke="#777" stroke-width="1"/>
<line x1="83.00" y1="757.26" x2="293.80" y2="757.26" stroke="#777" stroke-width="1"/>
<rect x="83.00" y="562.50" width="210.80" height="210.99" fill="none" stroke="#000" stroke-width="1.2"/>
<line x1="79.50" y1="570.62" x2="83.00" y2="570.62" stroke="#000" stroke-width="1.2"/>
<text x="35.80" y="574.82">UPN34</text>
<line x1="79.50" y1="586.85" x2="83.00" y2="586.85" stroke="#000" stroke-width="1.2"/>
<text x="35.80" y="591.05">UPN41</text>
<line x1="79.50" y1="603.08" x2="83.00" y2="603.08" stroke="#000" stroke-width="1.2"/>
<text x="35.80" y="607.28">UPN6</text>
<line x1="79.50" y1="619.30" x2="83.00" y2="619.30" stroke="#000" stroke-width="1.2"/>
<text x="35.80" y="623.50">UPN33</text>
<line x1="79.50" y1="635.53" x2="83.00" y2="635.53" stroke="#000" stroke-width="1.2"/>
<text x="35.80" y="639.74">UPN20</text>
<line x1="79.50" y1="651.76" x2="83.00" y2="651.76" stroke="#000" stroke-width="1.2"/>
<text x="35.80" y="655.97">UPN52</text>
<line x1="79.50" y1="668.00" x2="83.00" y2="668.00" stroke="#000" stroke-width="1.2"/>
<text x="35.80" y="672.20">UPN19</text>
<line x1="79.50" y1="684.23" x2="83.00" y2="684.23" stroke="#000" stroke-width="1.2"/>
<text x="35.80" y="688.43">UPN44</text>
<line x1="79.50" y1="700.46" x2="83.00" y2="700.46" stroke="#000" stroke-width="1.2"/>
<text x="35.80" y="704.66">UPN29</text>
<line x1="79.50" y1="716.68" x2="83.00" y2="716.68" stroke="#000" stroke-width="1.2"/>
<text x="35.80" y="720.88">UPN42</text>
<line x1="79.50" y1="732.91" x2="83.00" y2="732.91" stroke="#000" stroke-width="1.2"/>
<text x="35.80" y="737.12">UPN13</text>
<line x1="79.50" y1="749.14" x2="83.00" y2="749.14" stroke="#000" stroke-width="1.2"/>
<text x="35.80" y="753.35">UPN45</text>
<line x1="79.50" y1="765.38" x2="83.00" y2="765.38" stroke="#000" stroke-width="1.2"/>
<text x="35.80" y="769.58">UPN49</text>
<line x1="96.17" y1="556.50" x2="96.17" y2="562.50" stroke="#000" stroke-width="1.2"/>
<text transform="translate(94.97,555.50) rotate(-45)" font-size="12">IL-6</text>
<line x1="122.53" y1="556.50" x2="122.53" y2="562.50" stroke="#000" stroke-width="1.2"/>
<text transform="translate(121.33,555.50) rotate(-45)" font-size="12">IL-8</text>
<line x1="148.88" y1="556.50" x2="148.88" y2="562.50" stroke="#000" stroke-width="1.2"/>
<text transform="translate(147.68,555.50) rotate(-45)" font-size="12">TNF-α</text>
<line x1="175.23" y1="556.50" x2="175.23" y2="562.50" stroke="#000" stroke-width="1.2"/>
<text transform="translate(174.03,555.50) rotate(-45)" font-size="12">IL-10</text>
<line x1="201.57" y1="556.50" x2="201.57" y2="562.50" stroke="#000" stroke-width="1.2"/>
<text transform="translate(200.38,555.50) rotate(-45)" font-size="12">IL-6</text>
<line x1="227.93" y1="556.50" x2="227.93" y2="562.50" stroke="#000" stroke-width="1.2"/>
<text transform="translate(226.73,555.50) rotate(-45)" font-size="12">IL-8</text>
<line x1="254.28" y1="556.50" x2="254.28" y2="562.50" stroke="#000" stroke-width="1.2"/>
<text transform="translate(253.08,555.50) rotate(-45)" font-size="12">TNF-α</text>
<line x1="280.62" y1="556.50" x2="280.62" y2="562.50" stroke="#000" stroke-width="1.2"/>
<text transform="translate(279.43,555.50) rotate(-45)" font-size="12">IL-10</text>
<polyline points="84.1,527 84.1,514.8 185.3,514.8 185.3,527" fill="none" stroke="#000" stroke-width="1.2"/>
<text x="134.70" y="511.80" text-anchor="middle">CD112</text>
<polyline points="195.6,527 195.6,514.8 293.5,514.8 293.5,527" fill="none" stroke="#000" stroke-width="1.2"/>
<text x="244.55" y="511.80" text-anchor="middle">CD155</text>
<rect x="58.60" y="779.00" width="29.60" height="15.10" fill="#fff" stroke="#777" stroke-width="0.9"/>
<text x="91.90" y="791.20" font-size="12">cytokine release</text>
<rect x="186.30" y="778.60" width="30.60" height="15.90" fill="#000"/>
<text x="219.70" y="791.20" font-size="12">no cytokine release</text>
<text x="360.50" y="495.50" font-size="17.5" font-weight="bold">d</text>
<line x1="391.20" y1="506.40" x2="391.20" y2="634.20" stroke="#000" stroke-width="2.1"/>
<line x1="384.90" y1="625.20" x2="391.20" y2="625.20" stroke="#000" stroke-width="2.1"/>
<text x="384.20" y="629.40" text-anchor="end">0</text>
<line x1="384.90" y1="586.10" x2="391.20" y2="586.10" stroke="#000" stroke-width="2.1"/>
<text x="384.20" y="590.30" text-anchor="end">5</text>
<line x1="384.90" y1="547.00" x2="391.20" y2="547.00" stroke="#000" stroke-width="2.1"/>
<text x="384.20" y="551.20" text-anchor="end">10</text>
<line x1="384.90" y1="507.30" x2="391.20" y2="507.30" stroke="#000" stroke-width="2.1"/>
<text x="384.20" y="511.50" text-anchor="end">15</text>
<line x1="390.30" y1="633.30" x2="518.60" y2="633.30" stroke="#000" stroke-width="2.1"/>
<line x1="397.30" y1="633.30" x2="397.30" y2="639.30" stroke="#000" stroke-width="2.1"/>
<text x="397.30" y="649.90" text-anchor="middle">0</text>
<line x1="438.00" y1="633.30" x2="438.00" y2="639.30" stroke="#000" stroke-width="2.1"/>
<text x="438.00" y="649.90" text-anchor="middle">20</text>
<line x1="478.20" y1="633.30" x2="478.20" y2="639.30" stroke="#000" stroke-width="2.1"/>
<text x="478.20" y="649.90" text-anchor="middle">40</text>
<line x1="518.20" y1="633.30" x2="518.20" y2="639.30" stroke="#000" stroke-width="2.1"/>
<text x="518.20" y="649.90" text-anchor="middle">60</text>
<text x="453.15" y="664.10" text-anchor="middle" font-size="12.2">DNAM-1 SFI</text>
<text transform="translate(369.40,571.00) rotate(-90)" text-anchor="middle" font-size="11.8">IL-6 fold change</text>
<text x="409.00" y="503.40" font-size="12.1">CD112 Rs=-0.2</text>
<text x="409.00" y="517.90" font-size="12.1">CD155 Rs=-0.35</text>
<circle cx="407.50" cy="552.70" r="3.2" fill="#fff" stroke="#000" stroke-width="0.9"/>
<circle cx="423.40" cy="569.40" r="3.2" fill="#fff" stroke="#000" stroke-width="0.9"/>
<circle cx="438.40" cy="567.10" r="3.2" fill="#fff" stroke="#000" stroke-width="0.9"/>
<circle cx="411.80" cy="600.40" r="3.2" fill="#fff" stroke="#000" stroke-width="0.9"/>
<circle cx="427.40" cy="600.40" r="3.2" fill="#fff" stroke="#000" stroke-width="0.9"/>
<circle cx="421.90" cy="607.90" r="3.2" fill="#fff" stroke="#000" stroke-width="0.9"/>
<circle cx="407.10" cy="611.70" r="3.2" fill="#fff" stroke="#000" stroke-width="0.9"/>
<circle cx="416.60" cy="613.10" r="3.2" fill="#fff" stroke="#000" stroke-width="0.9"/>
<circle cx="407.50" cy="617.80" r="3.2" fill="#fff" stroke="#000" stroke-width="0.9"/>
<circle cx="411.40" cy="621.20" r="3.2" fill="#fff" stroke="#000" stroke-width="0.9"/>
<circle cx="417.10" cy="621.60" r="3.2" fill="#fff" stroke="#000" stroke-width="0.9"/>
<circle cx="449.80" cy="620.70" r="3.2" fill="#fff" stroke="#000" stroke-width="0.9"/>
<circle cx="466.90" cy="600.70" r="3.2" fill="#fff" stroke="#000" stroke-width="0.9"/>
<circle cx="478.80" cy="624.50" r="3.2" fill="#fff" stroke="#000" stroke-width="0.9"/>
<circle cx="504.80" cy="617.80" r="3.2" fill="#fff" stroke="#000" stroke-width="0.9"/>
<path d="M411.80,543.80L414.40,548.30L409.20,548.30Z" fill="#000"/>
<path d="M407.50,549.00L410.10,553.50L404.90,553.50Z" fill="#000"/>
<path d="M423.40,549.50L426.00,554.00L420.80,554.00Z" fill="#000"/>
<path d="M438.40,576.10L441.00,580.60L435.80,580.60Z" fill="#000"/>
<path d="M427.40,583.10L430.00,587.60L424.80,587.60Z" fill="#000"/>
<path d="M421.90,595.10L424.50,599.60L419.30,599.60Z" fill="#000"/>
<path d="M407.50,610.30L410.10,614.80L404.90,614.80Z" fill="#000"/>
<path d="M411.80,610.30L414.40,614.80L409.20,614.80Z" fill="#000"/>
<path d="M416.60,612.70L419.20,617.20L414.00,617.20Z" fill="#000"/>
<path d="M407.50,614.10L410.10,618.60L404.90,618.60Z" fill="#000"/>
<path d="M416.60,615.70L419.20,620.20L414.00,620.20Z" fill="#000"/>
<path d="M449.80,617.90L452.40,622.40L447.20,622.40Z" fill="#000"/>
<path d="M466.90,602.70L469.50,607.20L464.30,607.20Z" fill="#000"/>
<path d="M478.80,622.60L481.40,627.10L476.20,627.10Z" fill="#000"/>
<path d="M504.80,615.40L507.40,619.90L502.20,619.90Z" fill="#000"/>
<line x1="552.20" y1="506.70" x2="552.20" y2="633.10" stroke="#000" stroke-width="2.1"/>
<line x1="545.90" y1="625.30" x2="552.20" y2="625.30" stroke="#000" stroke-width="2.1"/>
<text x="545.20" y="629.50" text-anchor="end">0</text>
<line x1="545.90" y1="586.20" x2="552.20" y2="586.20" stroke="#000" stroke-width="2.1"/>
<text x="545.20" y="590.40" text-anchor="end">10</text>
<line x1="545.90" y1="546.60" x2="552.20" y2="546.60" stroke="#000" stroke-width="2.1"/>
<text x="545.20" y="550.80" text-anchor="end">20</text>
<line x1="545.90" y1="507.60" x2="552.20" y2="507.60" stroke="#000" stroke-width="2.1"/>
<text x="545.20" y="511.80" text-anchor="end">30</text>
<line x1="551.30" y1="632.20" x2="680.00" y2="632.20" stroke="#000" stroke-width="2.1"/>
<line x1="558.00" y1="632.20" x2="558.00" y2="638.20" stroke="#000" stroke-width="2.1"/>
<text x="558.00" y="648.80" text-anchor="middle">0</text>
<line x1="598.90" y1="632.20" x2="598.90" y2="638.20" stroke="#000" stroke-width="2.1"/>
<text x="598.90" y="648.80" text-anchor="middle">20</text>
<line x1="639.00" y1="632.20" x2="639.00" y2="638.20" stroke="#000" stroke-width="2.1"/>
<text x="639.00" y="648.80" text-anchor="middle">40</text>
<line x1="678.60" y1="632.20" x2="678.60" y2="638.20" stroke="#000" stroke-width="2.1"/>
<text x="678.60" y="648.80" text-anchor="middle">60</text>
<text x="614.50" y="663.00" text-anchor="middle" font-size="12.2">DNAM-1 SFI</text>
<text transform="translate(530.50,571.80) rotate(-90)" text-anchor="middle" font-size="11.8">IL-8 fold change</text>
<text x="570.00" y="502.30" font-size="12.1">CD112 Rs=0.1</text>
<text x="570.00" y="516.80" font-size="12.1">CD155 Rs=0.25</text>
<circle cx="628.00" cy="528.30" r="3.2" fill="#fff" stroke="#000" stroke-width="0.9"/>
<circle cx="584.60" cy="595.20" r="3.2" fill="#fff" stroke="#000" stroke-width="0.9"/>
<circle cx="582.80" cy="603.60" r="3.2" fill="#fff" stroke="#000" stroke-width="0.9"/>
<circle cx="610.90" cy="604.10" r="3.2" fill="#fff" stroke="#000" stroke-width="0.9"/>
<circle cx="598.90" cy="620.20" r="3.2" fill="#fff" stroke="#000" stroke-width="0.9"/>
<circle cx="640.30" cy="620.70" r="3.2" fill="#fff" stroke="#000" stroke-width="0.9"/>
<circle cx="666.40" cy="621.50" r="3.2" fill="#fff" stroke="#000" stroke-width="0.9"/>
<circle cx="567.50" cy="618.50" r="3.2" fill="#fff" stroke="#000" stroke-width="0.9"/>
<circle cx="569.50" cy="621.50" r="3.2" fill="#fff" stroke="#000" stroke-width="0.9"/>
<circle cx="572.60" cy="617.00" r="3.2" fill="#fff" stroke="#000" stroke-width="0.9"/>
<circle cx="576.00" cy="620.00" r="3.2" fill="#fff" stroke="#000" stroke-width="0.9"/>
<circle cx="579.00" cy="622.50" r="3.2" fill="#fff" stroke="#000" stroke-width="0.9"/>
<circle cx="571.00" cy="620.00" r="3.2" fill="#fff" stroke="#000" stroke-width="0.9"/>
<path d="M628.00,518.30L630.60,522.80L625.40,522.80Z" fill="#000"/>
<path d="M584.60,592.40L587.20,596.90L582.00,596.90Z" fill="#000"/>
<path d="M582.80,606.40L585.40,610.90L580.20,610.90Z" fill="#000"/>
<path d="M610.90,601.30L613.50,605.80L608.30,605.80Z" fill="#000"/>
<path d="M598.90,617.40L601.50,621.90L596.30,621.90Z" fill="#000"/>
<path d="M640.30,617.90L642.90,622.40L637.70,622.40Z" fill="#000"/>
<path d="M666.40,618.70L669.00,623.20L663.80,623.20Z" fill="#000"/>
<path d="M572.60,610.30L575.20,614.80L570.00,614.80Z" fill="#000"/>
<path d="M568.00,616.70L570.60,621.20L565.40,621.20Z" fill="#000"/>
<path d="M576.00,614.70L578.60,619.20L573.40,619.20Z" fill="#000"/>
<path d="M579.00,619.20L581.60,623.70L576.40,623.70Z" fill="#000"/>
<line x1="391.50" y1="696.70" x2="391.50" y2="824.60" stroke="#000" stroke-width="2.1"/>
<line x1="385.20" y1="815.80" x2="391.50" y2="815.80" stroke="#000" stroke-width="2.1"/>
<text x="384.50" y="820.00" text-anchor="end">0</text>
<line x1="385.20" y1="757.20" x2="391.50" y2="757.20" stroke="#000" stroke-width="2.1"/>
<text x="384.50" y="761.40" text-anchor="end">50</text>
<line x1="385.20" y1="697.60" x2="391.50" y2="697.60" stroke="#000" stroke-width="2.1"/>
<text x="384.50" y="701.80" text-anchor="end">100</text>
<line x1="390.60" y1="823.70" x2="518.50" y2="823.70" stroke="#000" stroke-width="2.1"/>
<line x1="397.00" y1="823.70" x2="397.00" y2="829.70" stroke="#000" stroke-width="2.1"/>
<text x="397.00" y="842.80" text-anchor="middle">0</text>
<line x1="437.20" y1="823.70" x2="437.20" y2="829.70" stroke="#000" stroke-width="2.1"/>
<text x="437.20" y="842.80" text-anchor="middle">20</text>
<line x1="477.20" y1="823.70" x2="477.20" y2="829.70" stroke="#000" stroke-width="2.1"/>
<text x="477.20" y="842.80" text-anchor="middle">40</text>
<line x1="517.50" y1="823.70" x2="517.50" y2="829.70" stroke="#000" stroke-width="2.1"/>
<text x="517.50" y="842.80" text-anchor="middle">60</text>
<text x="453.05" y="856.70" text-anchor="middle" font-size="12.2">DNAM-1 SFI</text>
<text transform="translate(369.10,762.00) rotate(-90)" text-anchor="middle" font-size="11.8">TNF-α fold change</text>
<text x="408.80" y="696.20" font-size="12.1">CD112 Rs=0.16</text>
<text x="408.80" y="710.70" font-size="12.1">CD155 Rs=-0.57</text>
<circle cx="478.70" cy="805.30" r="3.2" fill="#fff" stroke="#000" stroke-width="0.9"/>
<circle cx="438.00" cy="814.00" r="3.2" fill="#fff" stroke="#000" stroke-width="0.9"/>
<circle cx="449.80" cy="815.00" r="3.2" fill="#fff" stroke="#000" stroke-width="0.9"/>
<circle cx="467.20" cy="815.00" r="3.2" fill="#fff" stroke="#000" stroke-width="0.9"/>
<circle cx="504.70" cy="815.00" r="3.2" fill="#fff" stroke="#000" stroke-width="0.9"/>
<circle cx="407.20" cy="814.50" r="3.2" fill="#fff" stroke="#000" stroke-width="0.9"/>
<circle cx="411.00" cy="814.50" r="3.2" fill="#fff" stroke="#000" stroke-width="0.9"/>
<circle cx="416.00" cy="814.50" r="3.2" fill="#fff" stroke="#000" stroke-width="0.9"/>
<circle cx="420.00" cy="813.50" r="3.2" fill="#fff" stroke="#000" stroke-width="0.9"/>
<circle cx="423.50" cy="814.50" r="3.2" fill="#fff" stroke="#000" stroke-width="0.9"/>
<circle cx="413.50" cy="815.00" r="3.2" fill="#fff" stroke="#000" stroke-width="0.9"/>
<path d="M407.50,711.10L410.10,715.60L404.90,715.60Z" fill="#000"/>
<path d="M412.30,735.50L414.90,740.00L409.70,740.00Z" fill="#000"/>
<path d="M478.70,812.50L481.30,817.00L476.10,817.00Z" fill="#000"/>
<path d="M438.00,811.20L440.60,815.70L435.40,815.70Z" fill="#000"/>
<path d="M449.80,812.20L452.40,816.70L447.20,816.70Z" fill="#000"/>
<path d="M467.20,812.20L469.80,816.70L464.60,816.70Z" fill="#000"/>
<path d="M504.70,812.20L507.30,816.70L502.10,816.70Z" fill="#000"/>
<path d="M407.50,812.20L410.10,816.70L404.90,816.70Z" fill="#000"/>
<path d="M411.50,812.20L414.10,816.70L408.90,816.70Z" fill="#000"/>
<path d="M416.00,812.20L418.60,816.70L413.40,816.70Z" fill="#000"/>
<path d="M420.00,812.20L422.60,816.70L417.40,816.70Z" fill="#000"/>
<path d="M423.50,812.20L426.10,816.70L420.90,816.70Z" fill="#000"/>
<line x1="553.10" y1="696.70" x2="553.10" y2="824.60" stroke="#000" stroke-width="2.1"/>
<line x1="546.80" y1="816.30" x2="553.10" y2="816.30" stroke="#000" stroke-width="2.1"/>
<text x="546.10" y="820.50" text-anchor="end">0</text>
<line x1="546.80" y1="776.90" x2="553.10" y2="776.90" stroke="#000" stroke-width="2.1"/>
<text x="546.10" y="781.10" text-anchor="end">10</text>
<line x1="546.80" y1="737.50" x2="553.10" y2="737.50" stroke="#000" stroke-width="2.1"/>
<text x="546.10" y="741.70" text-anchor="end">20</text>
<line x1="546.80" y1="697.60" x2="553.10" y2="697.60" stroke="#000" stroke-width="2.1"/>
<text x="546.10" y="701.80" text-anchor="end">30</text>
<line x1="552.20" y1="823.70" x2="680.00" y2="823.70" stroke="#000" stroke-width="2.1"/>
<line x1="558.30" y1="823.70" x2="558.30" y2="829.70" stroke="#000" stroke-width="2.1"/>
<text x="558.30" y="841.30" text-anchor="middle">0</text>
<line x1="599.00" y1="823.70" x2="599.00" y2="829.70" stroke="#000" stroke-width="2.1"/>
<text x="599.00" y="841.30" text-anchor="middle">20</text>
<line x1="639.00" y1="823.70" x2="639.00" y2="829.70" stroke="#000" stroke-width="2.1"/>
<text x="639.00" y="841.30" text-anchor="middle">40</text>
<line x1="678.90" y1="823.70" x2="678.90" y2="829.70" stroke="#000" stroke-width="2.1"/>
<text x="678.90" y="841.30" text-anchor="middle">60</text>
<text x="614.70" y="854.50" text-anchor="middle" font-size="12.2">DNAM-1 SFI</text>
<text transform="translate(530.40,761.70) rotate(-90)" text-anchor="middle" font-size="11.8">IL-10 fold change</text>
<text x="570.20" y="696.00" font-size="12.1">CD112 Rs=0.02</text>
<text x="570.20" y="710.50" font-size="12.1">CD155 Rs=-0.15</text>
<circle cx="568.10" cy="800.00" r="3.2" fill="#fff" stroke="#000" stroke-width="0.9"/>
<circle cx="584.30" cy="803.50" r="3.2" fill="#fff" stroke="#000" stroke-width="0.9"/>
<circle cx="599.10" cy="806.60" r="3.2" fill="#fff" stroke="#000" stroke-width="0.9"/>
<circle cx="568.10" cy="812.40" r="3.2" fill="#fff" stroke="#000" stroke-width="0.9"/>
<circle cx="572.80" cy="812.40" r="3.2" fill="#fff" stroke="#000" stroke-width="0.9"/>
<circle cx="578.00" cy="812.40" r="3.2" fill="#fff" stroke="#000" stroke-width="0.9"/>
<circle cx="583.30" cy="812.40" r="3.2" fill="#fff" stroke="#000" stroke-width="0.9"/>
<circle cx="588.60" cy="812.40" r="3.2" fill="#fff" stroke="#000" stroke-width="0.9"/>
<circle cx="610.60" cy="812.40" r="3.2" fill="#fff" stroke="#000" stroke-width="0.9"/>
<circle cx="627.40" cy="812.40" r="3.2" fill="#fff" stroke="#000" stroke-width="0.9"/>
<circle cx="639.50" cy="812.40" r="3.2" fill="#fff" stroke="#000" stroke-width="0.9"/>
<circle cx="665.80" cy="812.40" r="3.2" fill="#fff" stroke="#000" stroke-width="0.9"/>
<path d="M568.10,714.50L570.70,719.00L565.50,719.00Z" fill="#000"/>
<path d="M572.80,735.00L575.40,739.50L570.20,739.50Z" fill="#000"/>
<path d="M584.30,800.70L586.90,805.20L581.70,805.20Z" fill="#000"/>
<path d="M599.10,799.40L601.70,803.90L596.50,803.90Z" fill="#000"/>
<path d="M610.60,809.60L613.20,814.10L608.00,814.10Z" fill="#000"/>
<path d="M627.40,809.60L630.00,814.10L624.80,814.10Z" fill="#000"/>
<path d="M639.50,809.60L642.10,814.10L636.90,814.10Z" fill="#000"/>
<path d="M665.80,809.60L668.40,814.10L663.20,814.10Z" fill="#000"/>
<path d="M568.10,809.80L570.70,814.30L565.50,814.30Z" fill="#000"/>
<path d="M572.80,809.80L575.40,814.30L570.20,814.30Z" fill="#000"/>
<path d="M578.00,809.80L580.60,814.30L575.40,814.30Z" fill="#000"/>
<path d="M583.30,809.80L585.90,814.30L580.70,814.30Z" fill="#000"/>
<path d="M588.60,809.80L591.20,814.30L586.00,814.30Z" fill="#000"/>
</svg></body></html>
